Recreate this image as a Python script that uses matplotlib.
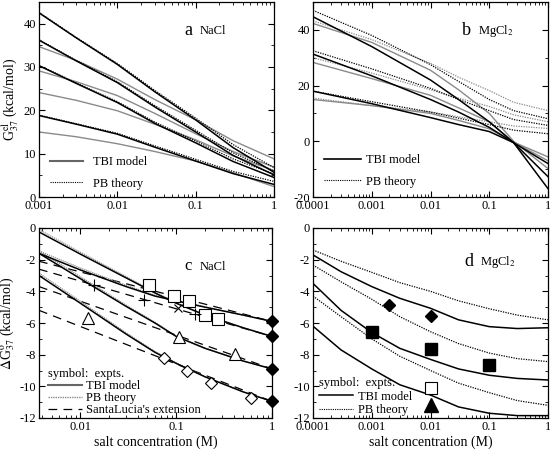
import matplotlib
matplotlib.use("Agg")
import matplotlib.pyplot as plt
from matplotlib.lines import Line2D
from matplotlib.ticker import FuncFormatter, MultipleLocator, LogLocator, NullFormatter

plt.rcParams['font.family'] = ['Liberation Serif', 'DejaVu Serif']
plt.rcParams['mathtext.fontset'] = 'stix'
plt.rcParams['axes.unicode_minus'] = False
plt.rcParams['font.size'] = 9

GRAY = '#8a8a8a'

# ---- panel a: NaCl, G_el ----
xa = [0.001, 0.003, 0.01, 0.03, 0.1, 0.3, 1.0]
a_tbi = [
    [42.5, 36.7, 30.6, 24.3, 17.8, 11.4, 5.7],
    [36.2, 31.4, 26.4, 20.8, 15.0, 9.6, 5.1],
    [30.3, 26.2, 21.8, 17.0, 12.5, 8.2, 4.5],
    [18.8, 16.8, 14.5, 11.5, 8.3, 5.4, 2.9],
]
a_pb = [
    [42.6, 36.8, 30.8, 24.6, 18.2, 12.1, 6.8],
    [36.3, 31.5, 26.6, 21.1, 15.4, 10.2, 6.0],
    [30.4, 26.3, 22.0, 17.3, 12.9, 8.8, 5.3],
    [18.9, 16.9, 14.7, 11.8, 8.7, 5.9, 3.6],
]
a_gray = [
    [34.7, 31.5, 27.2, 22.5, 17.8, 13.0, 8.8],
    [29.1, 26.6, 23.4, 19.3, 14.6, 10.5, 6.9],
    [24.1, 22.3, 19.9, 16.8, 13.2, 9.5, 6.1],
    [15.0, 13.9, 12.3, 10.5, 8.3, 5.6, 2.4],
]

# ---- panel b: MgCl2, G_el ----
xb = [1e-4, 1e-3, 1e-2, 0.03, 0.1, 0.26, 1.0]
b_tbi = [
    [44.7, 34.0, 22.0, 15.0, 7.0, -0.5, -17.0],
    [31.3, 23.5, 15.0, 10.5, 5.0, -0.5, -12.7],
    [18.0, 13.5, 8.5, 6.0, 3.5, -0.5, -8.0],
]
b_gray = [
    [42.3, 35.5, 25.5, 18.5, 10.0, 0.0, -9.8],
    [28.3, 22.5, 16.5, 12.0, 7.0, -0.3, -7.0],
    [15.0, 12.8, 10.0, 7.5, 4.5, -0.3, -5.6],
]
b_pb = [
    [47.0, 38.0, 27.5, 21.5, 15.0, 11.0, 8.1],
    [32.5, 26.0, 19.0, 15.0, 11.0, 7.8, 5.7],
    [18.0, 14.2, 10.5, 8.3, 6.0, 4.0, 2.7],
]
b_pb_gray = [
    [43.2, 36.5, 28.0, 23.0, 18.2, 14.0, 11.0],
    [30.0, 24.5, 18.5, 15.5, 12.5, 9.5, 7.0],
    [15.5, 12.8, 10.5, 8.8, 7.0, 5.5, 4.6],
]

# ---- panel c: NaCl, dG37 ----
xc = [0.0037, 0.01, 0.03, 0.06, 0.1, 0.2, 0.5, 1.0]
c_tbi = [
    [-1.6, -2.65, -3.7, -4.3, -4.6, -5.0, -5.5, -5.9],
    [-0.25, -1.65, -3.15, -4.1, -4.75, -5.5, -6.3, -6.85],
    [-1.6, -3.2, -4.95, -6.0, -6.85, -7.6, -8.4, -8.9],
    [-3.0, -4.75, -6.7, -7.85, -8.55, -9.4, -10.35, -10.95],
]
c_pb = [
    [-1.45, -2.53, -3.62, -4.25, -4.57, -4.98, -5.5, -5.9],
    [-0.1, -1.53, -3.07, -4.05, -4.72, -5.48, -6.3, -6.85],
    [-1.45, -3.08, -4.87, -5.95, -6.82, -7.58, -8.4, -8.9],
    [-2.85, -4.63, -6.62, -7.8, -8.52, -9.38, -10.35, -10.95],
]
xc_sl = [0.0037, 1.0]
c_sl = [
    [-2.1, -5.9],
    [-2.6, -6.85],
    [-3.7, -8.9],
    [-5.2, -10.95],
]
sq_x = [0.052, 0.095, 0.135, 0.2, 0.27]
sq_y = [-3.6, -4.27, -4.6, -5.5, -5.75]
plus_x = [0.0138, 0.0456, 0.157]
plus_y = [-3.6, -4.55, -5.45]
cross_x = [0.105]
cross_y = [-5.03]
tri_x = [0.012, 0.108, 0.41]
tri_y = [-5.7, -6.87, -7.98]
dia_x = [0.074, 0.131, 0.23, 0.6]
dia_y = [-8.19, -9.03, -9.81, -10.72]
fdia_x = [1.0, 1.0, 1.0, 1.0]
fdia_y = [-5.9, -6.85, -8.9, -10.95]

# ---- panel d: MgCl2, dG37 ----
xd = [1e-4, 3e-4, 1e-3, 3e-3, 1e-2, 3e-2, 0.1, 0.3, 1.0]
d_tbi = [
    [-1.7, -2.76, -3.7, -4.44, -5.07, -5.8, -6.23, -6.35, -6.3],
    [-3.5, -5.2, -6.6, -7.6, -8.3, -8.9, -9.3, -9.5, -9.6],
    [-6.2, -7.7, -8.9, -9.9, -10.55, -11.3, -11.7, -11.85, -11.85],
]
d_pb = [
    [-1.39, -2.1, -2.8, -3.45, -4.0, -4.6, -5.1, -5.5, -5.8],
    [-2.34, -3.4, -4.5, -5.6, -6.55, -7.3, -7.9, -8.25, -8.44],
    [-4.3, -5.6, -7.0, -8.1, -9.0, -9.8, -10.4, -10.9, -11.2],
]
dd_x = [0.002, 0.01]
dd_y = [-4.86, -5.54]
ds_x = [0.001, 0.01, 0.1]
ds_y = [-6.55, -7.64, -8.65]
dos_x = [0.01]
dos_y = [-10.09]
dt_x = [0.01]
dt_y = [-11.18]


def style_axis(ax, xmin, ymin, ymax, ymaj, ymin_step):
    ax.set_xscale('log')
    ax.set_xlim(xmin, 1)
    ax.set_ylim(ymin, ymax)
    ax.yaxis.set_major_locator(MultipleLocator(ymaj))
    ax.yaxis.set_minor_locator(MultipleLocator(ymin_step))
    ax.xaxis.set_major_locator(LogLocator(base=10))
    ax.xaxis.set_minor_locator(LogLocator(base=10, subs=range(2, 10)))
    ax.xaxis.set_minor_formatter(NullFormatter())
    ax.xaxis.set_major_formatter(FuncFormatter(lambda v, p: f'{v:g}'))
    ax.tick_params(which='both', direction='in', top=True, right=True, labelsize=9, pad=2)
    ax.tick_params(which='major', length=4.5)
    ax.tick_params(which='minor', length=2.2)
    for s in ax.spines.values():
        s.set_linewidth(0.9)


fig = plt.figure(figsize=(5.5, 4.49), dpi=100)
ax_a = fig.add_axes([39/550, 1 - 197/449, 235/550, 195/449])
ax_b = fig.add_axes([313/550, 1 - 197/449, 235/550, 195/449])
ax_c = fig.add_axes([39/550, 1 - 418/449, 233/550, 190/449])
ax_d = fig.add_axes([313/550, 1 - 418/449, 235/550, 190/449])

# panel a
for ys in a_gray:
    ax_a.plot(xa, ys, color=GRAY, lw=1.0)
for ys in a_tbi:
    ax_a.plot(xa, ys, color='black', lw=1.1)
for ys in a_pb:
    ax_a.plot(xa, ys, color='black', lw=0.9, ls=(0, (1, 1)))
style_axis(ax_a, 0.001, 0, 45, 10, 5)
ax_a.set_ylabel(r'G$^{\rm el}_{37}$ (kcal/mol)', fontsize=10, labelpad=2)
ax_a.text(0.62, 0.83, 'a', transform=ax_a.transAxes, fontsize=13)
ax_a.text(0.685, 0.835, 'NaCl', transform=ax_a.transAxes, fontsize=9)
ax_a.legend(handles=[Line2D([], [], color='#666666', lw=1.5),
                     Line2D([], [], color='black', lw=0.8, ls=(0, (1, 1)))],
            labels=['TBI model', 'PB theory'], loc='lower left',
            bbox_to_anchor=(0.0, -0.02), frameon=False, fontsize=9,
            handlelength=2.6, handletextpad=0.8, labelspacing=0.75)

# panel b
for ys in b_gray:
    ax_b.plot(xb, ys, color=GRAY, lw=1.0)
for ys in b_pb_gray:
    ax_b.plot(xb, ys, color=GRAY, lw=0.9, ls=(0, (1, 1)))
for ys in b_tbi:
    ax_b.plot(xb, ys, color='black', lw=1.1)
for ys in b_pb:
    ax_b.plot(xb, ys, color='black', lw=0.9, ls=(0, (1, 1)))
style_axis(ax_b, 1e-4, -20, 50, 20, 10)
ax_b.text(0.635, 0.83, 'b', transform=ax_b.transAxes, fontsize=13)
ax_b.text(0.70, 0.835, r'MgCl$_2$', transform=ax_b.transAxes, fontsize=9)
ax_b.legend(handles=[Line2D([], [], color='black', lw=1.2),
                     Line2D([], [], color='black', lw=0.8, ls=(0, (1, 1)))],
            labels=['TBI model', 'PB theory'], loc='lower left',
            bbox_to_anchor=(0.0, -0.01), frameon=False, fontsize=9,
            handlelength=2.9, handletextpad=0.4, labelspacing=0.75)

# panel c
for ys in c_sl:
    ax_c.plot(xc_sl, ys, color='black', lw=0.9, ls=(0, (7, 5)))
for ys in c_pb:
    ax_c.plot(xc, ys, color=GRAY, lw=0.9, ls=(0, (1, 0.7)))
for ys in c_tbi:
    ax_c.plot(xc, ys, color='black', lw=1.1)
mk = dict(ls='none', color='black', mfc='white', mew=0.8, clip_on=False)
ax_c.plot(sq_x, sq_y, marker='s', ms=8.5, **mk)
ax_c.plot(plus_x, plus_y, marker='+', ms=8, **mk)
ax_c.plot(cross_x, cross_y, marker='x', ms=6, **mk)
ax_c.plot(tri_x, tri_y, marker='^', ms=9, **mk)
ax_c.plot(dia_x, dia_y, marker='D', ms=6, **mk)
ax_c.plot(fdia_x, fdia_y, marker='D', ms=6.5, ls='none', color='black', clip_on=False)
style_axis(ax_c, 0.0037, -12, 0, 2, 1)
ax_c.set_ylabel(r'$\Delta$G$^{\rm o}_{37}$ (kcal/mol)', fontsize=10, labelpad=2)
ax_c.set_xlabel('salt concentration (M)', fontsize=10, labelpad=2)
ax_c.text(0.625, 0.78, 'c', transform=ax_c.transAxes, fontsize=12)
ax_c.text(0.69, 0.78, 'NaCl', transform=ax_c.transAxes, fontsize=9)
ax_c.legend(handles=[Line2D([], [], color='#666666', lw=1.5),
                     Line2D([], [], color=GRAY, lw=1.0, ls=(0, (1, 0.7))),
                     Line2D([], [], color='black', lw=0.9, ls=(0, (7, 5)))],
            labels=['TBI model', 'PB theory', "SantaLucia's extension"],
            title='symbol:  expts.', loc='lower left', alignment='left',
            bbox_to_anchor=(0.0, -0.035), frameon=False, fontsize=9,
            title_fontsize=9, handlelength=2.7, handletextpad=0.4,
            labelspacing=0.0, borderaxespad=0.3)

# panel d
for ys in d_pb:
    ax_d.plot(xd, ys, color='black', lw=0.9, ls=(0, (1, 1)))
for ys in d_tbi:
    ax_d.plot(xd, ys, color='black', lw=1.1)
ax_d.plot(dd_x, dd_y, marker='D', ms=6.5, ls='none', color='black')
ax_d.plot(ds_x, ds_y, marker='s', ms=9, ls='none', color='black')
ax_d.plot(dos_x, dos_y, marker='s', ms=9, ls='none', color='black', mfc='white', mew=0.8)
ax_d.plot(dt_x, dt_y, marker='^', ms=10, ls='none', color='black')
style_axis(ax_d, 1e-4, -12, 0, 2, 1)
ax_d.set_xlabel('salt concentration (M)', fontsize=10, labelpad=2)
ax_d.text(0.645, 0.80, 'd', transform=ax_d.transAxes, fontsize=13)
ax_d.text(0.71, 0.805, r'MgCl$_2$', transform=ax_d.transAxes, fontsize=9)
ax_d.legend(handles=[Line2D([], [], color='black', lw=1.1),
                     Line2D([], [], color='black', lw=0.8, ls=(0, (1, 1)))],
            labels=['TBI model', 'PB theory'], title='symbol:  expts.',
            loc='lower left', alignment='left', bbox_to_anchor=(-0.01, -0.035),
            frameon=False, fontsize=9, title_fontsize=9, handlelength=2.7,
            handletextpad=0.4, labelspacing=0.1, borderaxespad=0.3)

fig.savefig('out.png', dpi=100)
